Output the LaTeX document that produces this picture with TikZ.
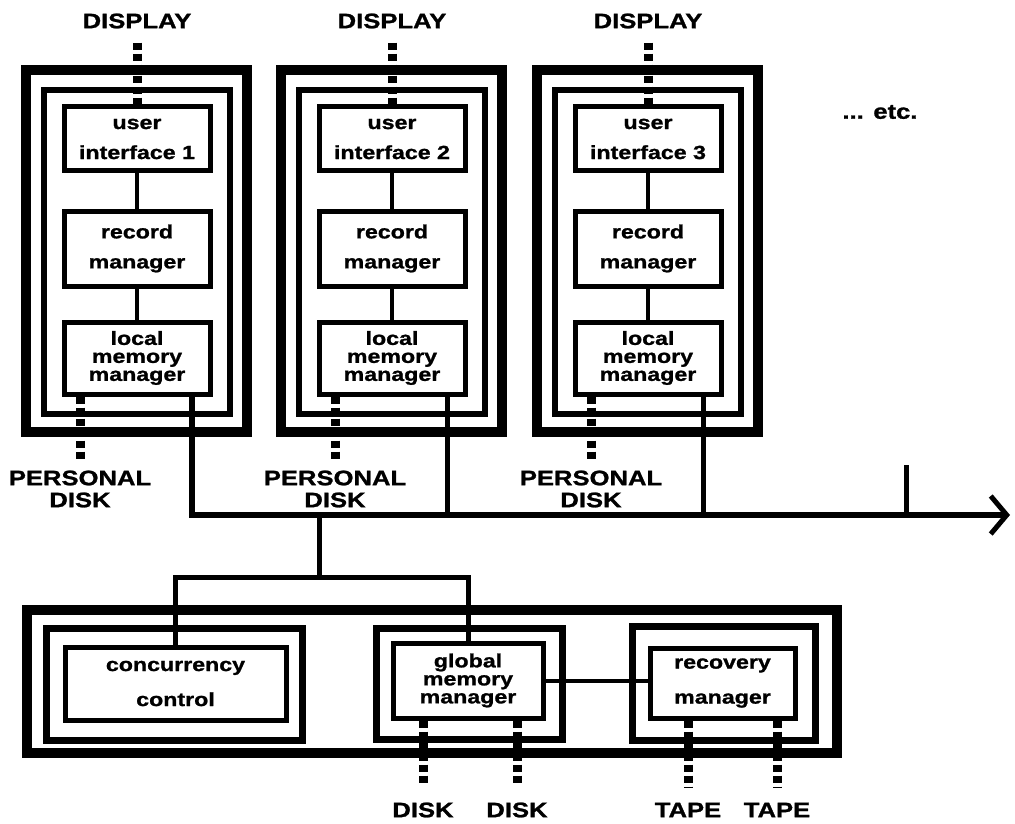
\documentclass[tikz,border=0pt]{standalone}
\usepackage{fontspec}
\newfontfamily\diagfont[UprightFont={* Bold}, FakeStretch=1.22, FakeBold=1.2]{Liberation Sans}
\usetikzlibrary{arrows.meta}
\tikzset{
    unit/.style={draw, line width=5pt, inner sep=0pt, align=center,
                 font=\diagfont\fontsize{19}{30}\selectfont},
    tight/.style={font=\diagfont\fontsize{19}{18}\selectfont},
    loose/.style={font=\diagfont\fontsize{19}{35}\selectfont},
    tag/.style={inner sep=0pt, font=\diagfont\fontsize{21}{22}\selectfont},
    link/.style={line width=4pt},
    drop/.style={line width=5pt},
    port/.style={line width=9pt, dash pattern=on 7pt off 4pt},
    bus/.style={line width=6pt, line join=miter,
                -{Straight Barb[length=16pt, width=38pt, line width=5pt]}},
}
\newcommand{\hostframe}[3]{
    \draw[line width=#1] #2 rectangle #3;
}

\begin{document}
\begin{tikzpicture}[x=1pt, y=-1pt]
    \useasboundingbox (0,0) rectangle (1015,824);

    % workstations
    \foreach \i/\cx in {1/137, 2/392, 3/648} {
        \hostframe{10pt}{(\cx-111,70)}{(\cx+110,432)}
        \hostframe{6.5pt}{(\cx-93,90)}{(\cx+93,414)}
        \node[unit, minimum width=146, minimum height=64] (ui\i) at (\cx,139) {user\\interface \i};
        \node[unit, minimum width=146, minimum height=75] (rm\i) at (\cx,248.5) {record\\manager};
        \node[unit, tight, minimum width=146, minimum height=72] (lm\i) at (\cx,358) {local\\memory\\manager};
        \node[tag] (disp\i) at (\cx,21) {DISPLAY};
        \node[tag, align=center] (pd\i) at (\cx-57,489) {PERSONAL\\DISK};
        \coordinate (tap\i) at (\cx+55,515);

        \draw[link] (ui\i) -- (rm\i);
        \draw[link] (rm\i) -- (lm\i);
        \draw[port, shorten <=14pt] (disp\i) -- (ui\i);
        \draw[port, shorten >=8pt] (lm\i.south -| pd\i) -- (pd\i.north);
        \draw[drop] (lm\i.south -| tap\i) -- (tap\i);
    }
    \node[tag] (etc) at (880,112) {... etc.};

    % bus
    \coordinate (busend) at (1010,515);
    \coordinate (spare) at (906,465);
    \draw[bus] (lm1.south -| tap1) -- (tap1) -- (busend);
    \draw[drop] (spare) -- (spare |- busend);

    % shared server
    \hostframe{10pt}{(27,610)}{(837,753)}
    \hostframe{7pt}{(46,628)}{(302,740)}
    \hostframe{7pt}{(376,628)}{(562,739)}
    \hostframe{7pt}{(632,626)}{(815,740)}
    \node[unit, loose, minimum width=221, minimum height=73] (cc) at (175.5,683.5) {concurrency\\control};
    \node[unit, tight, minimum width=150, minimum height=75] (gm) at (468,680.5) {global\\memory\\manager};
    \node[unit, loose, minimum width=145, minimum height=70] (rc) at (722.5,683) {recovery\\manager};
    \node[tag] (disk1) at (423,810) {DISK};
    \node[tag] (disk2) at (517,810) {DISK};
    \node[tag] (tape1) at (688,810) {TAPE};
    \node[tag] (tape2) at (777,810) {TAPE};

    \coordinate (tap) at (319,515);
    \coordinate (split) at (319,577);
    \draw[drop] (tap) -- (split);
    \draw[drop] (cc.north) |- (split) -| (gm.north);
    \draw[link] (gm.east) -- (gm.east -| rc.west);
    \draw[port, shorten >=16pt] (gm.south -| disk1) -- (disk1.north);
    \draw[port, shorten >=16pt] (gm.south -| disk2) -- (disk2.north);
    \draw[port, shorten >=16pt] (rc.south -| tape1) -- (tape1.north);
    \draw[port, shorten >=16pt] (rc.south -| tape2) -- (tape2.north);
\end{tikzpicture}
\end{document}
